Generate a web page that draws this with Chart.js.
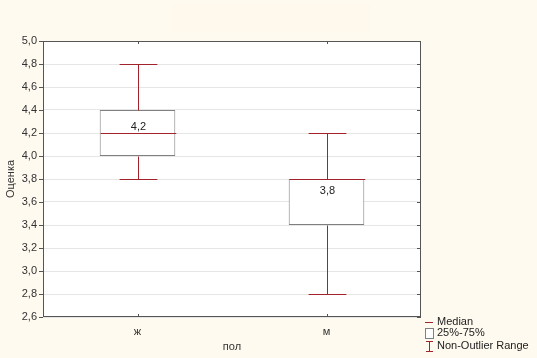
<!DOCTYPE html>
<html lang="ru">
<head>
<meta charset="UTF-8">
<title>Оценка по полу</title>
<style>
  html, body { margin: 0; padding: 0; background: #fffaef; }
  #wrap { width: 537px; height: 358px; position: relative; }
</style>
</head>
<body>
<div id="wrap"><canvas id="myChart" width="537" height="358"></canvas></div>
<script src="https://cdn.jsdelivr.net/npm/chart.js"></script>
<script>
// data
const groups = ['ж', 'м'];
const q1 = [4.0, 3.4];
const q3 = [4.4, 3.8];
const medians = [4.2, 3.8];
const whiskerLow = [3.8, 2.8];
const whiskerHigh = [4.8, 4.2];
const yTicks = [2.6, 2.8, 3.0, 3.2, 3.4, 3.6, 3.8, 4.0, 4.2, 4.4, 4.6, 4.8, 5.0];

const red = '#a3232d';
const boxGray = '#808080';
const frame = '#555555';
const font = '"Liberation Sans", Arial, sans-serif';
const fmt = v => v.toFixed(1).replace('.', ',');

const boxPlugin = {
    id: 'boxExtras',
    beforeDraw(chart) {
        const c = chart.ctx;
        c.save();
        c.fillStyle = '#fffaef';
        c.fillRect(0, 0, chart.width, chart.height);
        // faint empty title box
        c.fillStyle = '#fef9ec';
        c.fillRect(172, 4, 198, 28);
        const a = chart.chartArea;
        c.fillStyle = '#ffffff';
        c.fillRect(a.left, a.top, a.right - a.left, a.bottom - a.top);
        c.restore();
    },
    afterDatasetsDraw(chart) {
        const c = chart.ctx;
        const xs = chart.scales.x, ys = chart.scales.y;
        const meta = chart.getDatasetMeta(0);
        c.save();
        c.lineWidth = 1;
        groups.forEach((g, i) => {
            const x = Math.round(xs.getPixelForValue(i)) + 0.5;
            const bw = meta.data[i].width;
            const cap = bw / 4;
            const yLo = Math.round(ys.getPixelForValue(whiskerLow[i])) + 0.5;
            const yHi = Math.round(ys.getPixelForValue(whiskerHigh[i])) + 0.5;
            const yQ1 = Math.round(ys.getPixelForValue(q1[i])) + 0.5;
            const yQ3 = Math.round(ys.getPixelForValue(q3[i])) + 0.5;
            const yMed = Math.round(ys.getPixelForValue(medians[i])) + 0.5;
            c.strokeStyle = red;
            c.beginPath();
            c.moveTo(x, yHi); c.lineTo(x, yQ3);
            c.moveTo(x, yQ1); c.lineTo(x, yLo);
            c.moveTo(x - cap, yHi); c.lineTo(x + cap, yHi);
            c.moveTo(x - cap, yLo); c.lineTo(x + cap, yLo);
            c.moveTo(x - bw / 2, yMed); c.lineTo(x + bw / 2, yMed);
            c.stroke();
            // median label
            c.fillStyle = '#222';
            c.font = '11px ' + font;
            c.textAlign = 'center';
            c.textBaseline = 'middle';
            const above = yMed - 7;
            const ly = (above - 6 > yQ3) ? above : yMed + 11;
            c.fillText(fmt(medians[i]), x, ly);
        });

        // frame with tick marks
        const a = chart.chartArea;
        c.strokeStyle = frame;
        c.lineWidth = 1;
        c.strokeRect(Math.round(a.left) + 0.5, Math.round(a.top) + 0.5,
            Math.round(a.right - a.left) - 1, Math.round(a.bottom - a.top) - 1);
        c.beginPath();
        yTicks.forEach(v => {
            const y = Math.round(ys.getPixelForValue(v)) + 0.5;
            c.moveTo(a.right - 4, y); c.lineTo(a.right, y);
            c.moveTo(a.left - 4, y); c.lineTo(a.left, y);
        });
        groups.forEach((g, i) => {
            const x = Math.round(xs.getPixelForValue(i)) + 0.5;
            c.moveTo(x, a.top); c.lineTo(x, a.top + 3);
            c.moveTo(x, a.bottom); c.lineTo(x, a.bottom - 3);
        });
        c.stroke();

        // legend
        const lx = 425, ly0 = 322;
        c.font = '11px ' + font;
        c.textAlign = 'left';
        c.textBaseline = 'middle';
        c.fillStyle = '#222';
        c.strokeStyle = red;
        c.beginPath();
        c.moveTo(lx, ly0 + 0.5); c.lineTo(lx + 8, ly0 + 0.5);
        c.stroke();
        c.fillText('Median', lx + 12, ly0);
        c.strokeStyle = boxGray;
        c.fillStyle = '#fff';
        c.fillRect(lx + 0.5, ly0 + 6.5, 8, 10);
        c.strokeRect(lx + 0.5, ly0 + 6.5, 8, 10);
        c.fillStyle = '#222';
        c.fillText('25%-75%', lx + 12, ly0 + 11);
        c.strokeStyle = red;
        c.beginPath();
        c.moveTo(lx + 1, ly0 + 19.5); c.lineTo(lx + 8, ly0 + 19.5);
        c.moveTo(lx + 4.5, ly0 + 19.5); c.lineTo(lx + 4.5, ly0 + 29.5);
        c.moveTo(lx + 1, ly0 + 29.5); c.lineTo(lx + 8, ly0 + 29.5);
        c.stroke();
        c.fillText('Non-Outlier Range', lx + 12, ly0 + 24);
        c.restore();
    }
};

new Chart(document.getElementById('myChart'), {
    type: 'bar',
    data: {
        labels: groups,
        datasets: [{
            data: groups.map((g, i) => [q1[i], q3[i]]),
            backgroundColor: '#ffffff',
            borderColor: boxGray,
            borderWidth: 1,
            borderSkipped: false,
            barPercentage: 0.4,
            categoryPercentage: 1.0
        }]
    },
    options: {
        responsive: false,
        animation: false,
        devicePixelRatio: 1,
        layout: { padding: { top: 41, right: 116, left: 4, bottom: 0 } },
        plugins: { legend: { display: false }, tooltip: { enabled: false } },
        scales: {
            x: {
                offset: true,
                grid: { display: false },
                border: { display: false },
                ticks: { color: '#333', font: { family: font, size: 11 }, padding: 0 },
                title: { display: true, text: 'пол', color: '#333', font: { family: font, size: 11 }, padding: { top: 8 } },
                afterFit(s) { s.height = 41; }
            },
            y: {
                min: 2.6,
                max: 5.0,
                afterBuildTicks(s) { s.ticks = yTicks.map(v => ({ value: v })); },
                grid: { color: '#e6e6e6', drawTicks: false },
                border: { display: false },
                ticks: {
                    color: '#333',
                    font: { family: font, size: 11 },
                    padding: 6,
                    callback: v => fmt(v)
                },
                title: { display: true, text: 'Оценка', color: '#333', font: { family: font, size: 11 }, padding: 0 },
                afterFit(s) { s.width = 39; }
            }
        }
    },
    plugins: [boxPlugin]
});
</script>
</body>
</html>
